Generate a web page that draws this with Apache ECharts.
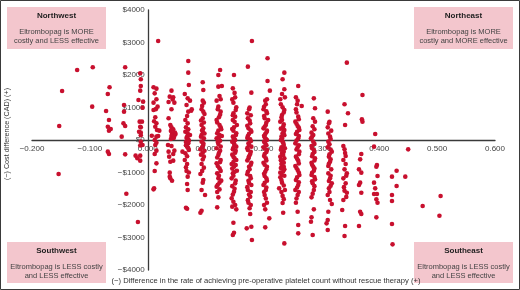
<!DOCTYPE html>
<html>
<head>
<meta charset="utf-8">
<script src="https://cdn.jsdelivr.net/npm/echarts@6/dist/echarts.min.js"></script>
<style>html,body{margin:0;padding:0;background:#fff}#c{width:520px;height:290px}</style>
</head>
<body>
<div id="c"></div>
<script>
// [effect difference, cost difference (CAD)]
const westPts = [[-0.122,2155],[-0.095,2237],[-0.148,1508],[-0.096,1026],[-0.153,431],[-0.154,-1047],[-0.066,1621],[-0.069,1416],[-0.072,893],[-0.067,616],[-0.069,410],[-0.064,339],[-0.067,287],[-0.069,-359],[-0.067,-431],[-0.039,2237],[-0.041,1077],[-0.041,872],[-0.042,513],[-0.039,431],[-0.045,103],[-0.039,-441],[-0.037,-1652],[-0.017,-2524],[-0.021,-482],[-0.013,2052],[-0.012,1867],[-0.012,1662],[-0.013,1518],[-0.016,1231],[-0.008,1180],[-0.009,995],[-0.014,564],[-0.010,564],[-0.013,410],[-0.012,390],[-0.015,256],[-0.012,226],[-0.012,144],[-0.012,-51],[-0.009,-154],[-0.013,-170],[-0.013,-482],[-0.013,-636],[-0.018,-560]];
const colA = [[0.018,3047],[0.010,1621],[0.015,1580],[0.012,1436],[0.010,1149],[0.015,1252],[0.010,923],[0.014,950],[0.017,1026],[0.013,698],[0.011,575],[0.015,513],[0.020,287],[0.007,133],[0.015,103],[0.018,123],[0.012,0],[0.015,-82],[0.013,-154],[0.015,-328],[0.012,-431],[0.015,-718],[0.012,-954],[0.011,-1488],[0.010,-1518],[0.013,410],[0.016,308]];
const colB = [[0.041,1518],[0.038,1334],[0.044,1313],[0.036,1170],[0.046,1149],[0.041,944],[0.036,667],[0.039,462],[0.041,390],[0.044,328],[0.047,226],[0.042,185],[0.048,185],[0.046,123],[0.041,123],[0.035,-154],[0.041,-185],[0.036,-359],[0.046,-328],[0.044,-431],[0.037,-513],[0.039,-667],[0.044,-636],[0.038,-1005],[0.039,-1180],[0.042,-1252],[0.038,-1128],[0.043,1250],[0.040,280],[0.045,60],[0.040,30]];
const colC = [[0.070,2432],[0.070,2073],[0.071,1693],[0.064,1416],[0.069,1282],[0.073,1211],[0.067,1077],[0.076,944],[0.070,872],[0.068,739],[0.065,616],[0.069,513],[0.066,390],[0.070,328],[0.065,256],[0.069,205],[0.073,154],[0.068,103],[0.070,21],[0.066,-62],[0.070,-103],[0.068,-205],[0.071,-308],[0.065,-410],[0.064,-616],[0.068,-739],[0.066,-841],[0.069,-1128],[0.068,-1354],[0.069,-1539],[0.066,-2083],[0.068,-2114],[0.060,-359],[0.075,900],[0.067,60],[0.071,-20],[0.066,-160],[0.070,-250],[0.068,-500],[0.067,-950],[0.071,-1000]];
const colD = [[0.095,1775],[0.096,1539],[0.095,1211],[0.097,1149],[0.093,944],[0.096,872],[0.095,667],[0.093,462],[0.096,359],[0.095,256],[0.093,154],[0.097,51],[0.093,-51],[0.096,-154],[0.091,-287],[0.095,-390],[0.097,-513],[0.093,-739],[0.091,-1047],[0.096,-1231],[0.095,-1313],[0.093,-1539],[0.099,-1693],[0.093,-2175],[0.091,-2237],[0.094,1050],[0.098,800],[0.092,600],[0.097,540],[0.094,300],[0.098,200],[0.092,100],[0.096,-100],[0.094,-220],[0.098,-330],[0.092,-450],[0.095,-600],[0.097,-850],[0.094,-950]];
const colE = [[0.125,2155],[0.122,2001],[0.122,1642],[0.128,1662],[0.124,1354],[0.126,1252],[0.119,1211],[0.122,1026],[0.126,872],[0.119,616],[0.124,462],[0.126,390],[0.122,287],[0.120,205],[0.124,154],[0.128,123],[0.119,51],[0.125,-21],[0.122,-123],[0.119,-256],[0.125,-328],[0.122,-462],[0.126,-616],[0.119,-718],[0.124,-872],[0.120,-1026],[0.122,-1180],[0.124,-1313],[0.119,-1436],[0.122,-1765],[0.120,-2073],[0.121,950],[0.125,780],[0.123,700],[0.120,540],[0.127,330],[0.123,80],[0.121,-60],[0.126,-200],[0.123,-400],[0.120,-540],[0.125,-680],[0.121,-800],[0.126,-950],[0.123,-1100],[0.127,-1250],[0.121,-1380],[0.124,-1520],[0.120,-1600]];
const colF = [[0.149,2001],[0.147,1590],[0.151,1313],[0.148,1149],[0.153,1005],[0.148,821],[0.151,718],[0.147,616],[0.154,462],[0.149,390],[0.148,287],[0.153,205],[0.147,103],[0.151,0],[0.149,-103],[0.153,-205],[0.147,-287],[0.151,-390],[0.148,-513],[0.153,-616],[0.145,-739],[0.149,-821],[0.154,-944],[0.147,-1026],[0.145,-1180],[0.151,-1334],[0.149,-1590],[0.145,-1795],[0.148,-1898],[0.153,-2134],[0.148,-2545],[0.149,-2852],[0.147,-2924],[0.150,1450],[0.146,1250],[0.152,920],[0.147,760],[0.150,560],[0.146,340],[0.152,150],[0.149,50],[0.146,-50],[0.150,-160],[0.148,-240],[0.152,-330],[0.146,-450],[0.150,-560],[0.148,-680],[0.152,-770],[0.146,-880],[0.150,-980],[0.148,-1100],[0.152,-1250],[0.146,-1420],[0.150,-1500],[0.147,-1680],[0.151,-2000],[0.146,-2050]];
const colG = [[0.180,3047],[0.173,2257],[0.179,1457],[0.175,944],[0.173,667],[0.177,513],[0.174,359],[0.179,256],[0.173,123],[0.177,21],[0.174,-103],[0.179,-205],[0.173,-308],[0.177,-431],[0.174,-564],[0.179,-698],[0.175,-821],[0.173,-975],[0.177,-1108],[0.174,-1252],[0.179,-1385],[0.173,-1539],[0.177,-1744],[0.174,-1929],[0.177,-2278],[0.171,-2719],[0.179,-2668],[0.180,-3078],[0.176,1000],[0.172,820],[0.178,760],[0.176,600],[0.172,440],[0.178,300],[0.175,190],[0.172,60],[0.178,-40],[0.175,-160],[0.172,-250],[0.178,-360],[0.175,-500],[0.172,-630],[0.178,-760],[0.176,-900],[0.172,-1050],[0.178,-1180],[0.175,-1320],[0.172,-1450],[0.178,-1600],[0.175,-1680],[0.173,-1850],[0.178,-2000],[0.176,-2100]];
const colH = [[0.207,2514],[0.207,1816],[0.211,1518],[0.206,1252],[0.203,1211],[0.200,944],[0.206,821],[0.202,667],[0.208,616],[0.204,462],[0.200,359],[0.206,287],[0.203,185],[0.202,82],[0.206,0],[0.203,-103],[0.200,-226],[0.206,-308],[0.202,-431],[0.204,-564],[0.200,-698],[0.206,-821],[0.203,-975],[0.202,-1108],[0.206,-1252],[0.200,-1385],[0.204,-1539],[0.202,-1693],[0.206,-1929],[0.203,-2134],[0.210,-2411],[0.203,-2688],[0.204,1100],[0.201,1020],[0.205,880],[0.201,740],[0.205,540],[0.202,410],[0.205,240],[0.201,130],[0.204,40],[0.201,-50],[0.205,-160],[0.202,-260],[0.205,-370],[0.201,-490],[0.205,-630],[0.202,-760],[0.205,-900],[0.201,-1040],[0.205,-1180],[0.202,-1320],[0.205,-1460],[0.201,-1600],[0.204,-1800],[0.201,-2000]];
const colI = [[0.236,2073],[0.233,1867],[0.236,1560],[0.232,1416],[0.237,1313],[0.229,1252],[0.233,1005],[0.236,923],[0.232,770],[0.232,616],[0.229,564],[0.234,410],[0.236,308],[0.235,256],[0.233,205],[0.231,103],[0.232,51],[0.233,-51],[0.234,-82],[0.231,-226],[0.237,-256],[0.235,-359],[0.232,-410],[0.229,-513],[0.236,-564],[0.233,-667],[0.231,-739],[0.235,-821],[0.236,-903],[0.229,-1005],[0.232,-1077],[0.229,-1149],[0.232,-1313],[0.237,-1539],[0.227,-1488],[0.233,-1720],[0.233,-1940],[0.234,-2240],[0.236,-3181],[0.230,1100],[0.235,850],[0.231,700],[0.235,480],[0.230,350],[0.236,150],[0.230,0],[0.235,-150],[0.230,-300],[0.234,-460],[0.230,-620],[0.235,-700],[0.230,-860],[0.234,-960],[0.236,-1100],[0.231,-1230],[0.235,-1400],[0.231,-1600],[0.235,-1820]];
const colJ = [[0.260,1662],[0.256,1313],[0.259,1211],[0.266,1046],[0.256,944],[0.260,718],[0.255,564],[0.259,431],[0.262,308],[0.256,185],[0.260,51],[0.255,-103],[0.259,-226],[0.262,-359],[0.256,-513],[0.260,-636],[0.255,-800],[0.259,-923],[0.262,-1077],[0.256,-1231],[0.260,-1385],[0.255,-1539],[0.259,-1693],[0.256,-1929],[0.259,-2206],[0.260,-2616],[0.260,-2873],[0.258,1100],[0.257,850],[0.261,640],[0.257,500],[0.261,380],[0.258,250],[0.261,120],[0.257,-20],[0.261,-160],[0.257,-290],[0.261,-440],[0.258,-580],[0.261,-720],[0.257,-860],[0.261,-1000],[0.258,-1150],[0.261,-1300],[0.258,-1460],[0.261,-1600],[0.257,-1800]];
const colK = [[0.287,1282],[0.289,975],[0.286,667],[0.289,564],[0.283,226],[0.286,154],[0.282,51],[0.286,-51],[0.283,-185],[0.287,-308],[0.285,-431],[0.289,-564],[0.283,-698],[0.286,-821],[0.287,-944],[0.283,-1077],[0.289,-1211],[0.285,-1334],[0.287,-1539],[0.283,-1765],[0.287,-2134],[0.283,-2380],[0.282,-2514],[0.285,-2924],[0.285,420],[0.288,330],[0.284,100],[0.288,-120],[0.284,-250],[0.288,-370],[0.284,-500],[0.288,-630],[0.284,-760],[0.288,-880],[0.284,-1010],[0.288,-1140],[0.284,-1270],[0.288,-1420],[0.285,-1650]];
const colL = [[0.311,872],[0.313,513],[0.311,390],[0.317,287],[0.315,103],[0.312,-51],[0.311,-226],[0.318,-359],[0.313,-513],[0.315,-667],[0.312,-800],[0.317,-903],[0.312,-1026],[0.315,-1180],[0.318,-1334],[0.313,-1488],[0.311,-1693],[0.315,-1847],[0.318,-1970],[0.312,-2206],[0.311,-2462],[0.311,-2770],[0.309,-2565],[0.314,560],[0.312,200],[0.316,30],[0.314,-130],[0.316,-290],[0.314,-440],[0.316,-590],[0.313,-730],[0.316,-1100],[0.313,-1260],[0.316,-1410],[0.314,-1600]];
const colM = [[0.344,2380],[0.340,1098],[0.346,821],[0.341,462],[0.338,-185],[0.340,-287],[0.342,-492],[0.338,-616],[0.342,-739],[0.340,-903],[0.344,-1026],[0.338,-1180],[0.342,-1334],[0.340,-1560],[0.344,-1621],[0.338,-1847],[0.336,-2155],[0.341,-2647],[0.340,-2955],[0.341,-400],[0.343,-1100],[0.339,-1450],[0.343,-1750]];
const colN = [[0.371,1385],[0.370,636],[0.371,564],[0.369,-431],[0.367,-595],[0.365,-903],[0.369,-1005],[0.367,-1313],[0.365,-1385],[0.369,-1621],[0.367,-2206],[0.369,-2278],[0.365,-2647]];
const eastPts = [[0.393,185],[0.391,-205],[0.396,-769],[0.395,-821],[0.397,-1108],[0.391,-1313],[0.393,-1488],[0.391,-1662],[0.396,-1662],[0.395,-1826],[0.397,-1929],[0.395,-2380],[0.422,-1128],[0.422,-1693],[0.422,-1877],[0.422,-2586],[0.423,-3211],[0.430,-944],[0.430,-1416],[0.445,-1128],[0.450,-287],[0.475,-2032],[0.506,-1724],[0.504,-2329]];

const xTicks = [-0.2,-0.1,0,0.1,0.2,0.3,0.4,0.5,0.6];
const yTicks = [-4000,-3000,-2000,-1000,0,1000,2000,3000,4000];
const xTitle = '(\u2212) Difference in the rate of achieving pre-operative platelet count without rescue therapy (+)';
const yTitle = '(\u2212) Cost difference (CAD) (+)';
const quadrants = [
  {name:'Northwest', l1:'Eltrombopag is MORE', l2:'costly and LESS effective'},
  {name:'Northeast', l1:'Eltrombopag is MORE', l2:'costly and MORE effective'},
  {name:'Southwest', l1:'Eltrombopag is LESS costly', l2:'and LESS effective'},
  {name:'Southeast', l1:'Eltrombopag is LESS costly', l2:'and LESS effective'}
];

const allPts = [].concat(westPts,colA,colB,colC,colD,colE,colF,colG,colH,colI,colJ,colK,colL,colM,colN,eastPts);
const FONT = '"Liberation Sans", Arial, sans-serif';
const chart = echarts.init(document.getElementById('c'), null, {renderer:'canvas'});

const G = {left:32, right:25, top:10, bottom:20, W:520, H:290};
const xMin = xTicks[0], xMax = xTicks[xTicks.length-1];
const yMin = yTicks[0], yMax = yTicks[yTicks.length-1];
const gw = G.W - G.left - G.right, gh = G.H - G.top - G.bottom;
// shift axes so they cross at the origin (offset of axis from grid edge)
const xAxisOffset = -gh * (0 - yMin) / (yMax - yMin);
const yAxisOffset = -gw * (0 - xMin) / (xMax - xMin);

const boxPos = [[7,7],[414,7],[7,242],[414,242]];
const graphics = [];
quadrants.forEach((q,i)=>{
  const [bx,by] = boxPos[i];
  const w = 99, h = (i<2)?42:41;
  const cx = bx + w/2;
  graphics.push({type:'rect', shape:{x:bx,y:by,width:w,height:h}, style:{fill:'#f3c6cd'}, z:1});
  graphics.push({type:'text', x:cx, y:by+9, style:{text:q.name, font:'bold 8px '+FONT, fill:'#1e1e1e', textAlign:'center', textVerticalAlign:'middle'}, z:2});
  graphics.push({type:'text', x:cx, y:by+24.5, style:{text:q.l1, font:'7.5px '+FONT, fill:'#444', textAlign:'center', textVerticalAlign:'middle'}, z:2});
  graphics.push({type:'text', x:cx, y:by+33.5, style:{text:q.l2, font:'7.5px '+FONT, fill:'#444', textAlign:'center', textVerticalAlign:'middle'}, z:2});
});
graphics.push({type:'text', x:266, y:281, style:{text:xTitle, font:'7.6px '+FONT, fill:'#333', textAlign:'center', textVerticalAlign:'middle'}, z:2});
graphics.push({type:'text', x:7, y:134, rotation:Math.PI/2, style:{text:yTitle, font:'7.2px '+FONT, fill:'#333', textAlign:'center', textVerticalAlign:'middle'}, z:2});
graphics.push({type:'rect', shape:{x:0.5,y:0.5,width:519,height:289}, style:{fill:null, stroke:'#3a3a3a', lineWidth:1}, z:3});

const minus = s => s.replace('-', '\u2212');
chart.setOption({
  animation:false,
  backgroundColor:'#fff',
  grid:{left:G.left,right:G.right,top:G.top,bottom:G.bottom,containLabel:false},
  xAxis:{type:'value',min:xMin,max:xMax,interval:0.1,position:'bottom',offset:xAxisOffset,
    axisLine:{show:true,onZero:false,lineStyle:{color:'#3a3a3a',width:1.3}},
    axisTick:{show:false},splitLine:{show:false},
    axisLabel:{margin:5,fontSize:8,fontFamily:FONT,color:'#444',formatter:v=>minus(v.toFixed(3))}},
  yAxis:{type:'value',min:yMin,max:yMax,interval:1000,position:'left',offset:yAxisOffset,
    axisLine:{show:true,onZero:false,lineStyle:{color:'#3a3a3a',width:1.3}},
    axisTick:{show:false},splitLine:{show:false},
    axisLabel:{margin:3,fontSize:8,fontFamily:FONT,color:'#444',formatter:v=>v<0?'\u2212$'+(-v):'$'+v}},
  series:[{type:'scatter',data:allPts,symbolSize:4.6,itemStyle:{color:'#c8102e',opacity:1},z:5}],
  graphic:graphics
});
</script>
</body>
</html>
